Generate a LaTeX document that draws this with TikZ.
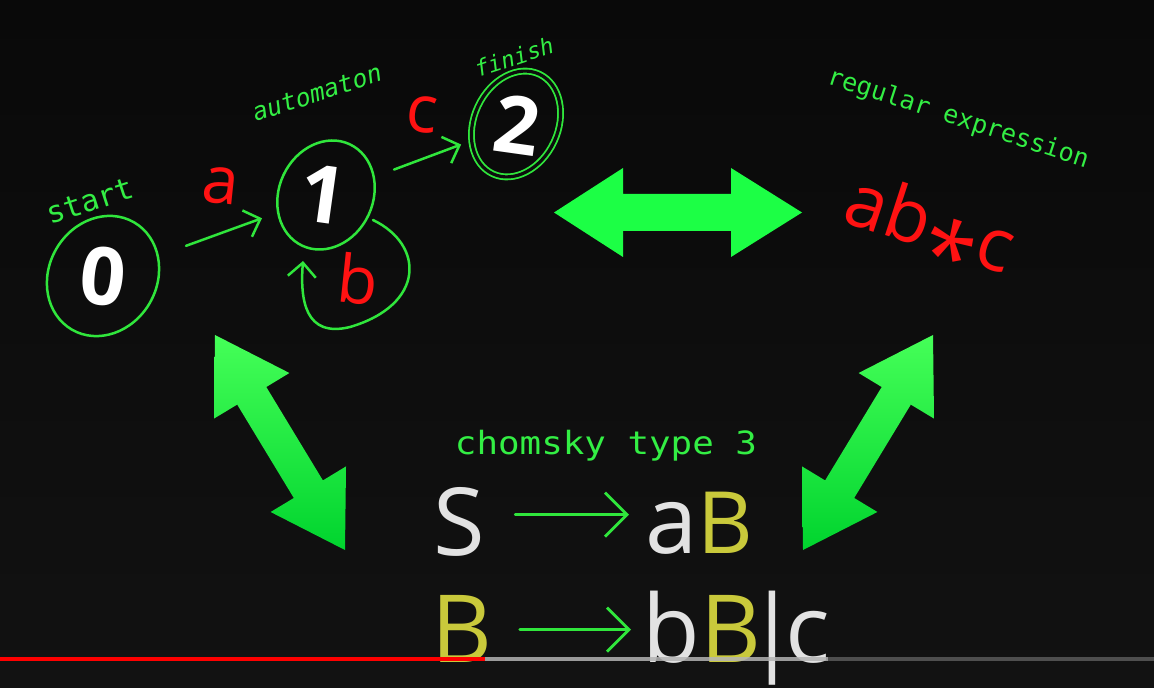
\documentclass[tikz,border=0pt]{standalone}
\usepackage{fontspec}
\setmainfont{Open Sans}
\newfontfamily\labelmono{DejaVu Sans Mono}
\usetikzlibrary{shapes.geometric,arrows.meta,calc}
\definecolor{bgtop}{HTML}{090909}
\definecolor{bgbot}{HTML}{121212}
\definecolor{bgc}{HTML}{0D0D0D}
\definecolor{lgreen}{HTML}{30E63C}
\definecolor{tgreen}{HTML}{33EE44}
\definecolor{agreen}{HTML}{1CFF45}
\definecolor{agtop}{HTML}{45FF58}
\definecolor{agbot}{HTML}{00D42E}
\definecolor{rred}{HTML}{FF1212}
\definecolor{gwhite}{HTML}{E2E2E2}
\definecolor{gyellow}{HTML}{C9C93B}
\definecolor{barred}{HTML}{FF0000}
\definecolor{barlight}{HTML}{B4B4B4}
\definecolor{bardark}{HTML}{5A5A5A}
\begin{document}
\begin{tikzpicture}[x=0.5pt,y=-0.5pt,
  state/.style={ellipse, draw=lgreen, line width=1.25pt, inner sep=0pt},
  digit/.style={text=white, inner sep=0pt, font=\fontsize{40}{40}\selectfont\bfseries},
  lbl/.style={text=tgreen, inner sep=0pt},
  sym/.style={text=rred, inner sep=0pt, font=\fontsize{33}{33}\selectfont},
  trans/.style={draw=lgreen, line width=1.25pt, line cap=round, -{Straight Barb[length=7pt,width=14pt]}},
  gram/.style={inner sep=0pt, font=\fontsize{47}{47}\selectfont},
  garrow/.style={draw=lgreen, line width=1.4pt, line cap=round, -{Straight Barb[length=11pt,width=22pt]}},
  bigarrow/.style={fill=agreen},
  diagarrow/.style={top color=agtop, bottom color=agbot}]

% background
\fill[top color=bgtop, bottom color=bgbot] (0,0) rectangle (1154,688);
\useasboundingbox (0,0) rectangle (1154,688);

% automaton states
\node[state, minimum width=54pt, minimum height=62pt, rotate=-30] (n0) at (103,276) {};
\node[state, minimum width=47pt, minimum height=56pt, rotate=-25] (n1) at (326,195) {};
\node[state, minimum width=42pt, minimum height=55pt, rotate=-25, double=bgc, double distance=1.6pt, line width=0.9pt] (n2) at (516,124) {};

\node[digit, rotate=-6] (d0) at (103,276) {0};
\node[digit, rotate=-8] (d1) at (323,194) {1};
\node[digit, rotate=-8] (d2) at (517,125) {2};

% labels
\node[lbl, font=\labelmono\fontsize{15}{15}\selectfont, rotate=18] (lstart) at (90,201) {start};
\node[lbl, font=\labelmono\itshape\fontsize{12.4}{12.4}\selectfont, rotate=18] (lauto) at (317,93) {automaton};
\node[lbl, font=\labelmono\itshape\fontsize{11.3}{11.3}\selectfont, rotate=18] (lfin) at (514,57) {finish};
\node[lbl, font=\labelmono\fontsize{12.6}{12.6}\selectfont, rotate=-18] (lreg) at (958,119) {regular expression};
\node[lbl, font=\labelmono\fontsize{16}{16}\selectfont] (lchom) at (606,446) {\scalebox{1.12}[1]{chomsky type 3}};

% transition symbols
\node[sym, rotate=-6] (sa) at (221,186) {a};
\node[sym, rotate=-6] (sc) at (422,115) {c};
\node[sym, rotate=-6] (sb) at (358,279) {b};

% regular expression
\node[sym, font=\fontsize{37}{37}\selectfont, rotate=-18] (re) at (926,237) {ab\raisebox{-0.45em}{\scalebox{1.25}{*}}c};

% transitions
\draw[trans] ($(n0)!0.372!(n1)$) -- ($(n0)!0.713!(n1)$);
\draw[trans] ($(n1)!0.358!(n2)$) -- ($(n1)!0.711!(n2)$);
\draw[trans] ([shift={(47,25)}]n1.center) .. controls ([shift={(99,50)}]n1.center) and ([shift={(99,110)}]n1.center) .. ([shift={(24,132)}]n1.center) .. controls ([shift={(-21,143)}]n1.center) and ([shift={(-26,105)}]n1.center) .. ([shift={(-23,66)}]n1.center);

% big arrows
\fill[bigarrow] (554,212.5) -- (623,168) -- (623,194) -- (731,194) -- (731,168) -- (802,212.5) -- (731,257) -- (731,231) -- (623,231) -- (623,257) -- cycle;
\shade[diagarrow] (215,335) -- (289.4,373.0) -- (266.3,387.0) -- (322.9,480.4) -- (346.0,466.4) -- (345,550) -- (270.6,512.0) -- (293.8,498.0) -- (237.2,404.6) -- (214.0,418.6) -- cycle;
\shade[diagarrow] (933,335) -- (858.6,373.0) -- (881.7,387.0) -- (825.1,480.4) -- (802.0,466.4) -- (803,550) -- (877.4,512.0) -- (854.2,498.0) -- (910.8,404.6) -- (934.0,418.6) -- cycle;

% grammar
\node[gram, text=gwhite, anchor=base] (gS) at (459,555) {S};
\node[gram, anchor=base west] (gaB) at (645,553) {{\color{gwhite}a}{\color{gyellow}\fontsize{43}{43}\selectfont B}};
\node[gram, text=gyellow, anchor=base] (gB) at (462,662) {B};
\node[gram, anchor=base west] (gbBc) at (642,662) {{\color{gwhite}b}{\color{gyellow}B}\kern-0.15em{\color{gwhite}|\kern-0.14em c}};

\draw[garrow] ([shift={(30,-35)}]gS.mid east) -- ([shift={(-16,-33)}]gaB.mid west);
\draw[garrow] ([shift={(27,-27)}]gB.mid east) -- ([shift={(-11,-27)}]gbBc.mid west);

% progress bar
\draw[barred, line width=2pt] (0,659) -- (485,659);
\draw[barlight, line width=1.6pt, opacity=0.85] (485,659) -- (828,659);
\draw[bardark, line width=1.6pt, opacity=0.85] (828,659) -- (1154,659);
\end{tikzpicture}
\end{document}
